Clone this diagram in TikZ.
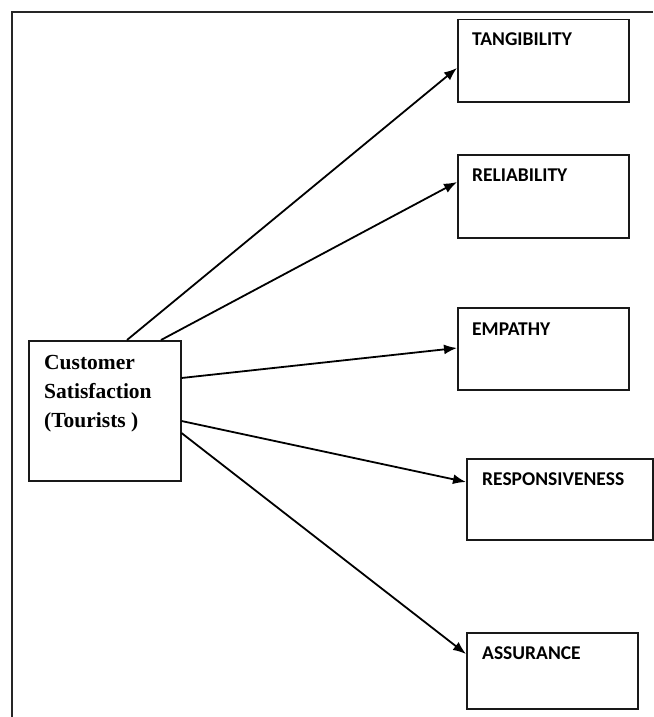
\documentclass[tikz,border=0pt]{standalone}
\usepackage{fontspec}
\setmainfont{Liberation Serif}
\newfontfamily\calib{Carlito}
\usetikzlibrary{calc,arrows.meta}
\begin{document}
\begin{tikzpicture}[x=1pt,y=-1pt,
  frame/.style={line width=2.6pt,draw=black!85},
  box/.style={draw=black!90,line width=1.5pt,rectangle,inner sep=0pt,anchor=north west},
  lbl/.style={font=\calib\bfseries\fontsize{19.5}{22}\selectfont,anchor=base west,inner sep=0pt},
  arr/.style={line width=1.8pt,-{Latex[length=13pt,width=10pt]}}]
\useasboundingbox (0,0) rectangle (653,717);
% outer frame (open on right and bottom)
\coordinate (fb) at (12,717);
\coordinate (fc) at (12,12);
\coordinate (fr) at (653,12);
\draw[frame] (fb) -- (fc) -- (fr);
% central box
\node[box,minimum width=152pt,minimum height=140pt] (cust) at (28,340) {};
\node[anchor=north west,inner sep=0pt,align=left,font=\bfseries\fontsize{21.5}{29}\selectfont] (custtxt) at (44,355) {Customer\\Satisfaction\\(Tourists )};
% right boxes
\node[box,minimum width=171pt,minimum height=82pt] (tang) at (457,19) {};
\node[box,minimum width=171pt,minimum height=83pt] (reli) at (457,154) {};
\node[box,minimum width=171pt,minimum height=82pt] (empa) at (457,307) {};
\node[box,minimum width=186pt,minimum height=81pt] (resp) at (466,458) {};
\node[box,minimum width=171pt,minimum height=76pt] (assu) at (466,632) {};
% labels
\node[lbl] (tangl) at (472,46) {TANGIBILITY};
\node[lbl] (relil) at (472,181) {RELIABILITY};
\node[lbl] (empal) at (472,335) {EMPATHY};
\node[lbl] (respl) at (482,485) {RESPONSIVENESS};
\node[lbl] (assul) at (482,659) {ASSURANCE};
% arrows
\draw[arr] ($(cust.north west)+(99,0)$) -- ($(tang.north west)+(0,49)$);
\draw[arr] ($(cust.north west)+(133,0)$) -- ($(reli.north west)+(0,28)$);
\draw[arr] ($(cust.north east)+(0,38)$) -- ($(empa.north west)+(0,41)$);
\draw[arr] ($(cust.north east)+(0,81)$) -- ($(resp.north west)+(0,24)$);
\draw[arr] ($(cust.north east)+(0,93)$) -- ($(assu.north west)+(0,22)$);
\end{tikzpicture}
\end{document}
